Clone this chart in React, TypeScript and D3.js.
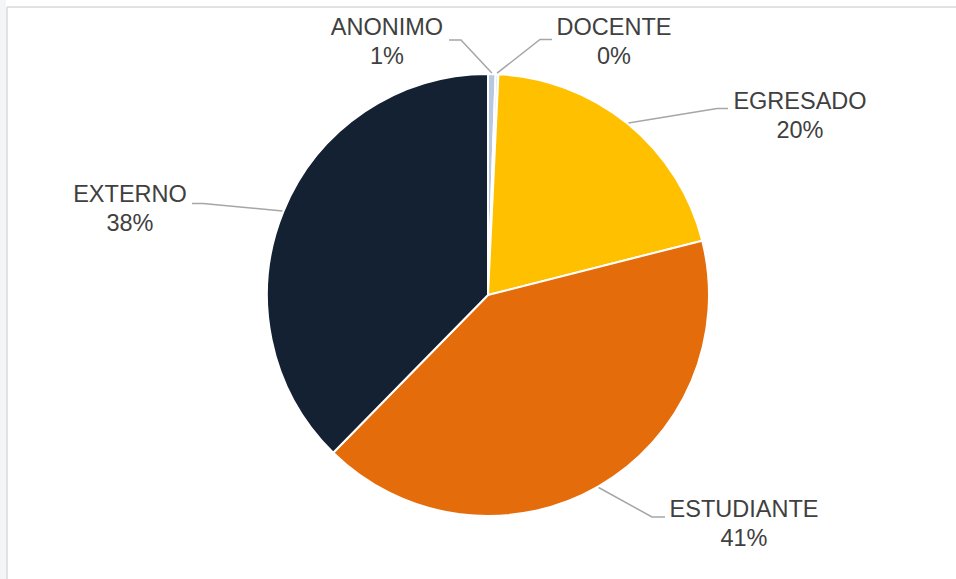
import React from "react";
import * as d3 from "d3";

const categories = ["ANONIMO", "DOCENTE", "EGRESADO", "ESTUDIANTE", "EXTERNO"];
const values = [0.55, 0.2, 20.3, 41.3, 37.65];
const colors = ["#b8c8e0", "#dbe3ef", "#FFC000", "#E46C0A", "#142133"];

// label layout: text center x, first baseline y, elbow point of leader, end of leader
const labelLayout = [
  { x: 387, y: 34.5, elbow: [461, 40], end: [449, 40] },
  { x: 614, y: 34.5, elbow: [540, 39.5], end: [552, 39.5] },
  { x: 800, y: 109, elbow: [717, 108.5], end: [728, 108.5] },
  { x: 744, y: 516.5, elbow: [652, 517], end: [665, 517] },
  { x: 130, y: 201.5, elbow: [203, 203.5], end: [192, 203.5] },
];

const W = 956;
const H = 579;
const cx = 488;
const cy = 295;
const R = 221;

export default function App() {
  const total = d3.sum(values);
  const pie = d3.pie<number>().sort(null).value((d) => d);
  const arcs = pie(values);
  const arcGen = d3.arc<d3.PieArcDatum<number>>().innerRadius(0).outerRadius(R);
  const pct = (v: number) => `${Math.round((v / total) * 100)}%`;

  return (
    <svg
      width={W}
      height={H}
      style={{ position: "absolute", left: 0, top: 0, background: "#fff" }}
      fontFamily="'Liberation Sans', Arial, sans-serif"
    >
      <rect x={0} y={0} width={6} height={H} fill="#f3f6f9" />
      <line x1={7} y1={7} x2={W} y2={7} stroke="#d9d9d9" strokeWidth={1.5} />
      <line x1={7} y1={7} x2={7} y2={H} stroke="#d9d9d9" strokeWidth={1.5} />
      <g transform={`translate(${cx},${cy})`}>
        {arcs.map((a, i) => (
          <path key={categories[i]} d={arcGen(a) || ""} fill={colors[i]} stroke="#fff" strokeWidth={2} strokeLinejoin="round" />
        ))}
      </g>
      {arcs.map((a, i) => {
        const mid = (a.startAngle + a.endAngle) / 2;
        const px = cx + Math.sin(mid) * (R + 1);
        const py = cy - Math.cos(mid) * (R + 1);
        const L = labelLayout[i];
        return (
          <g key={"lab" + categories[i]}>
            <polyline
              points={`${px},${py} ${L.elbow[0]},${L.elbow[1]} ${L.end[0]},${L.end[1]}`}
              fill="none"
              stroke="#a6a6a6"
              strokeWidth={1.5}
            />
            <text x={L.x} y={L.y} textAnchor="middle" fontSize={23.5} fill="#404040">
              {categories[i]}
            </text>
            <text x={L.x} y={L.y + 29} textAnchor="middle" fontSize={23.5} fill="#404040">
              {pct(values[i])}
            </text>
          </g>
        );
      })}
    </svg>
  );
}
